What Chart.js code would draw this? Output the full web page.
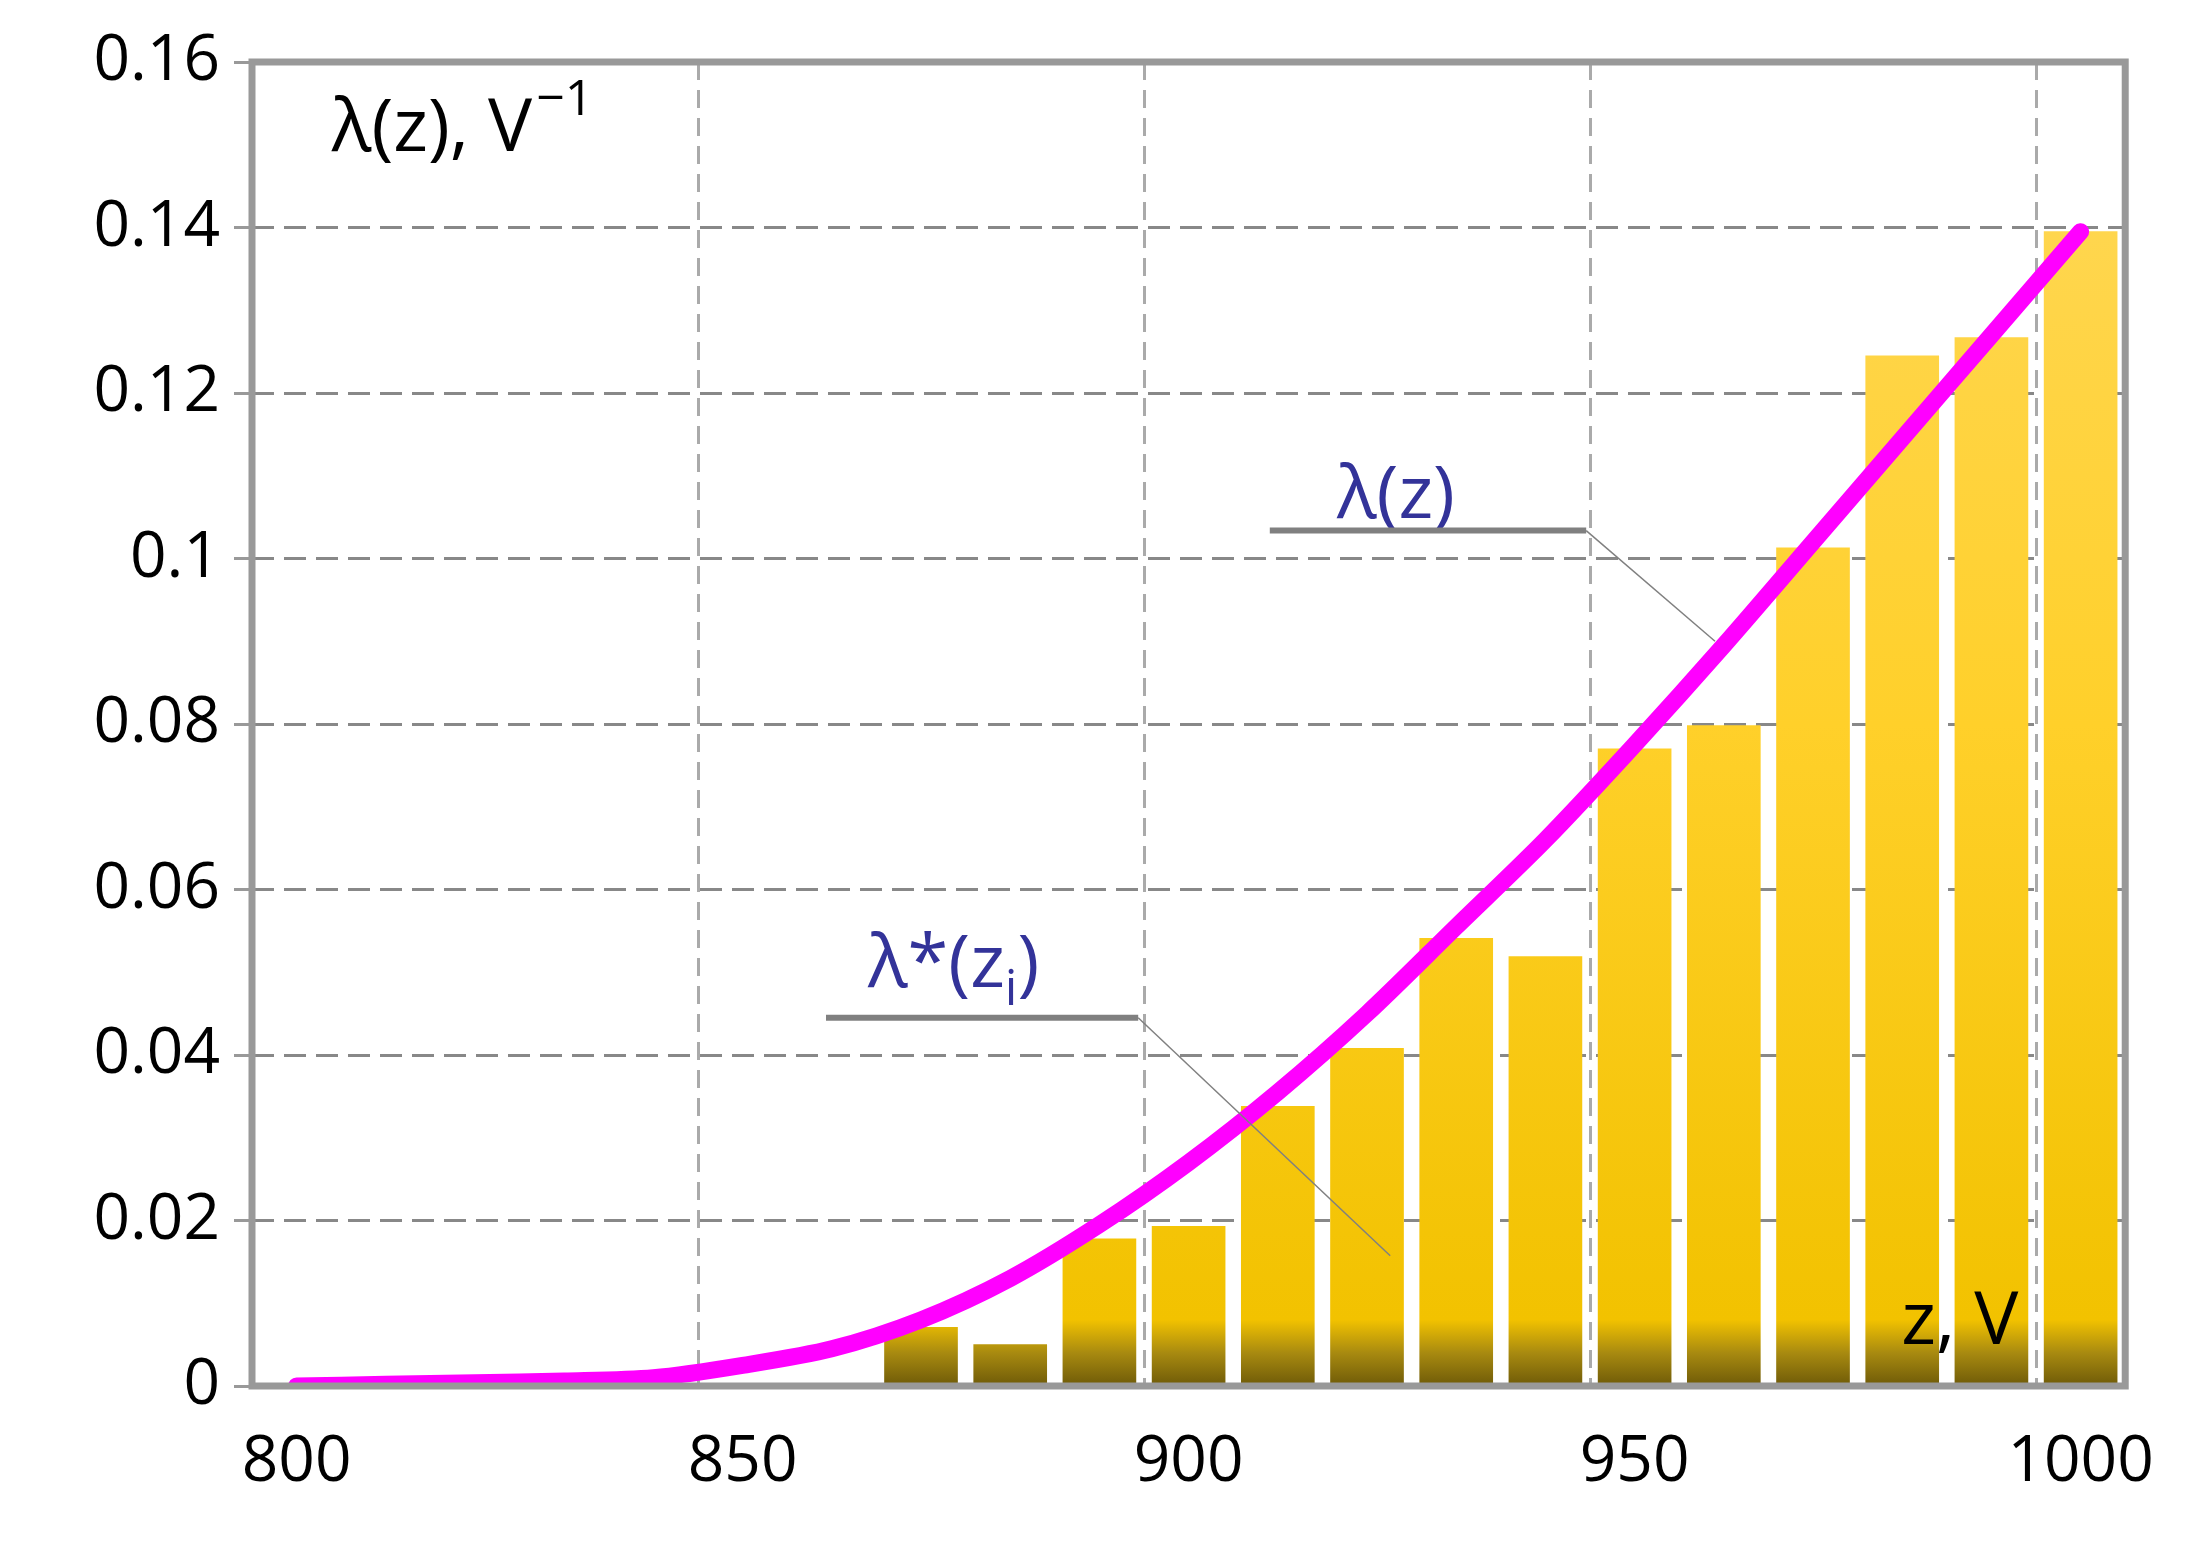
<!DOCTYPE html>
<html><head><meta charset="utf-8">
<script src="https://cdn.jsdelivr.net/npm/chart.js@4"></script>
<style>html,body{margin:0;padding:0;background:#fff}#w{width:2185px;height:1548px}</style>
</head><body><div id="w"><canvas id="c"></canvas></div>
<script>
const barZ = [810,820,830,840,850,860,870,880,890,900,910,920,930,940,950,960,970,980,990,1000];
const barVals = [0,0,0,0,0,0,0.0071,0.005,0.0178,0.0193,0.0338,0.0408,0.0541,0.0519,0.077,0.0798,0.1013,0.1245,0.1267,0.1395];
const lineZ = [800,810,820,830,840,850,860,870,880,890,900,910,920,930,940,950,960,970,980,990,1000];
const lineVals = [0,0.0002,0.0004,0.0006,0.001,0.0025,0.0045,0.008,0.013,0.0195,0.027,0.0355,0.045,0.0555,0.066,0.0775,0.0895,0.102,0.1145,0.127,0.1395];
const xTickLabels = [800,850,900,950,1000];
const xGridAt = [795,845,895,945,995,1005];
const yTicks = [0,0.02,0.04,0.06,0.08,0.1,0.12,0.14,0.16];
const F = '"Open Sans", "Noto Sans", sans-serif';
const S = 1.4;

function barFill(ctx){
  const ch = ctx.chart, a = ch.chartArea;
  if(!a) return '#FFCC00';
  const g = ch.ctx.createLinearGradient(0, a.top, 0, a.bottom);
  g.addColorStop(0, '#FFD85A');
  g.addColorStop(0.5, '#FFD02A');
  g.addColorStop(0.95, '#F2C200');
  g.addColorStop(0.975, '#A88A10');
  g.addColorStop(1, '#6E5A08');
  return g;
}

const deco = {
  id:'deco',
  afterDraw(ch){
    const c = ch.ctx, a = ch.chartArea;
    c.save();
    c.strokeStyle = '#999'; c.lineWidth = 7;
    c.strokeRect(a.left, a.top, a.right-a.left, a.bottom-a.top);
    c.fillStyle = '#000'; c.textBaseline = 'alphabetic';
    c.font = '74px ' + F;
    c.textAlign = 'left';
    c.fillText('λ(z), V', 237*S, 108*S);
    const w = c.measureText('λ(z), V').width;
    c.font = '50px ' + F;
    c.fillText('−1', 237*S + w + 4, 82*S);
    c.font = '74px ' + F;
    c.fillText('z, V', 1358*S, 960*S);
    c.fillStyle = '#333399';
    c.fillText('λ(z)', 955*S, 370*S);
    c.fillText('λ*(z', 620*S, 705*S);
    const w2 = c.measureText('λ*(z').width;
    c.font = '50px ' + F;
    c.fillText('i', 620*S + w2, 718*S);
    const w3 = c.measureText('i').width;
    c.font = '74px ' + F;
    c.fillText(')', 620*S + w2 + w3, 705*S);
    c.strokeStyle = '#808080'; c.lineWidth = 6;
    c.beginPath(); c.moveTo(907*S,379*S); c.lineTo(1133*S,379*S); c.stroke();
    c.beginPath(); c.moveTo(590*S,727*S); c.lineTo(813*S,727*S); c.stroke();
    c.lineWidth = 1.5;
    c.beginPath(); c.moveTo(1133*S,379*S); c.lineTo(1225*S,458*S); c.stroke();
    c.beginPath(); c.moveTo(813*S,727*S); c.lineTo(993*S,897*S); c.stroke();
    c.restore();
  }
};

new Chart(document.getElementById('c'), {
  type:'bar',
  data:{datasets:[
    {type:'line', data: lineZ.map((z,i)=>({x:z,y:lineVals[i]})), borderColor:'#FF00FF', borderWidth:17, pointRadius:0, tension:0.3, borderCapStyle:'round', xAxisID:'x', order:0},
    {type:'bar', data: barZ.map((z,i)=>({x:z,y:barVals[i]})), backgroundColor: barFill, barThickness: 73, xAxisID:'x', order:1}
  ]},
  plugins:[deco],
  options:{
    responsive:true, maintainAspectRatio:false, animation:false,
    layout:{padding:{top:62,right:50,left:0,bottom:0}},
    plugins:{legend:{display:false}, tooltip:{enabled:false}},
    scales:{
      x:{type:'linear', min:795, max:1005, position:'bottom', offset:false,
        afterBuildTicks(ax){ ax.ticks = xTickLabels.map(v=>({value:v})); },
        ticks:{font:{family:F,size:64}, color:'#000', padding:30, maxRotation:0, autoSkip:false, callback:v=>String(v)},
        grid:{display:false, offset:false}, border:{display:false},
        afterFit(ax){ ax.height = 162; }
      },
      xg:{type:'linear', min:795, max:1005, position:'bottom', display:true, offset:false,
        afterBuildTicks(ax){ ax.ticks = xGridAt.map(v=>({value:v})); },
        ticks:{display:false},
        grid:{color:'#AAAAAA', lineWidth:3, drawTicks:false, offset:false}, border:{display:false, dash:[18,10]},
        afterFit(ax){ ax.height = 0; }
      },
      y:{min:0, max:0.16,
        afterBuildTicks(ax){ ax.ticks = yTicks.map(v=>({value:v})); },
        ticks:{font:{family:F,size:64}, color:'#000', padding:14, callback:v=>String(Math.round(v*100)/100)},
        grid:{color:'#888', lineWidth:3, tickLength:18, tickColor:'#999'},
        border:{display:false, dash:[22,10]},
        afterFit(ax){ ax.width = 252; }
      }
    }
  }
});
</script></body></html>
